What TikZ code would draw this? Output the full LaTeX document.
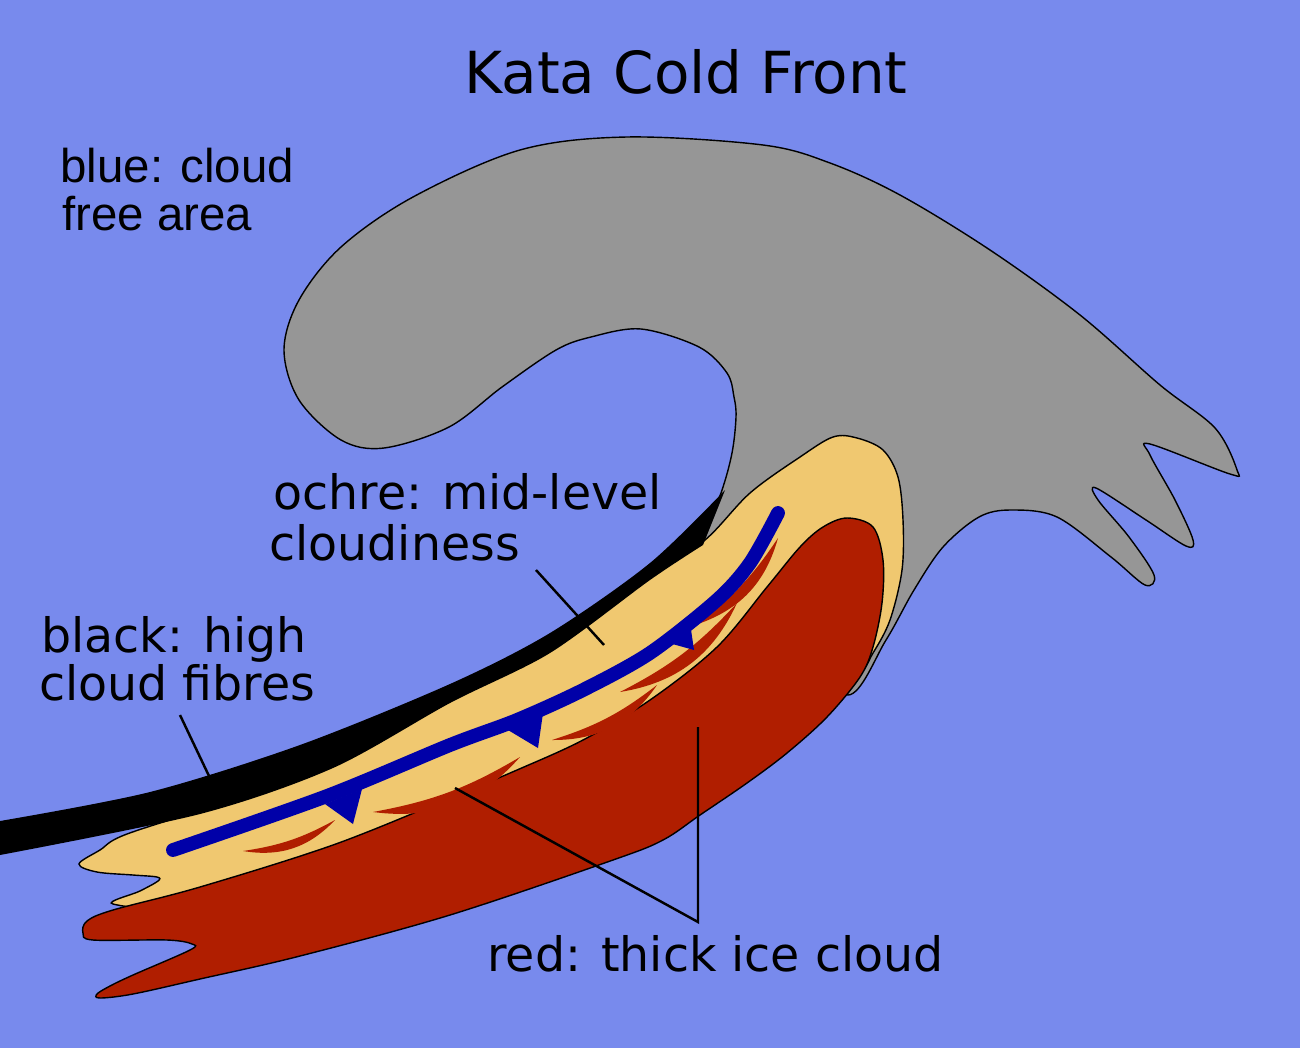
\documentclass[tikz,border=0pt]{standalone}
\usepackage{fontspec}
\setmainfont{DejaVu Sans}
\newfontfamily\arialfont{Liberation Sans}
\definecolor{sky}{RGB}{120,138,237}
\definecolor{cloudgray}{RGB}{150,150,150}
\definecolor{ochre}{RGB}{240,200,112}
\definecolor{icered}{RGB}{176,30,0}
\definecolor{frontblue}{RGB}{0,0,168}
\begin{document}
\begin{tikzpicture}[x=.02cm, y=-.02cm,
    outline/.style={draw=black, line width=.8pt},
    lead/.style={draw=black, line width=1.4pt},
    lbl/.style={font=\fontsize{27}{30}\selectfont, inner sep=0pt, anchor=base west}]

\useasboundingbox (0,0) rectangle (1300,1048);
\fill[sky] (0,0) rectangle (1300,1048);

% grey cloud head
\filldraw[cloudgray, outline] plot[smooth cycle, tension=.55] coordinates {(700,545) (721,493) (732,453) (736,417) (734,397) (727,373) (699,347) (641,329) (591,337) (556,350) (502,387) (449,427) (384,448) (341,440) (299,400) (284,350) (299,300) (341,247) (413,197) (520,150) (627,137) (763,145) (830,163) (900,195) (990,250) (1080,315) (1160,385) (1215,428) (1237,470) (1230,474) (1150,444) (1150,455) (1175,500) (1193,540) (1186,546) (1146,520) (1096,488) (1098,500) (1129,537) (1154,575) (1145,585) (1111,557) (1057,517) (1011,510) (979,517) (943,547) (914,590) (886,640) (848,695) (800,640) (760,560)};

% ochre band
\filldraw[ochre, outline] plot[smooth cycle, tension=.55] coordinates {(127,834) (233,800) (333,765) (450,700) (550,650) (650,577) (705,540) (750,493) (800,457) (833,437) (857,438) (883,450) (898,477) (903,520) (902,570) (890,620) (873,653) (856,676) (800,700) (650,790) (450,860) (200,905) (113,904) (140,891) (158,881) (157,877) (133,875) (97,872) (79,864) (100,850)};

% red band
\filldraw[icered, outline] plot[smooth cycle, tension=.55] coordinates {(113,910) (200,887) (333,845) (450,798) (517,770) (583,740) (650,700) (717,647) (767,587) (800,547) (823,527) (847,518) (873,527) (883,560) (882,603) (873,647) (860,677) (827,717) (787,753) (747,783) (700,815) (663,840) (613,860) (450,915) (300,956) (200,979) (133,994) (100,998) (97,994) (110,986) (133,975) (190,950) (192,944) (167,940) (93,940) (83,933) (87,921)};

% black fibres
\fill[black] plot[smooth] coordinates {(0,821) (150,792) (300,745) (450,684) (550,633) (650,563) (725,490)} -- plot[smooth] coordinates {(703,545) (650,580) (550,653) (450,703) (333,768) (200,814) (0,855)} -- cycle;

% red slivers
\foreach \xa/\ya/\xb/\yb in {243/851/335/820, 373/812/520/757, 552/740/657/685, 620/692/737/603, 695/625/778/538}
    \fill[icered] (\xa,\ya) to[bend right=28] (\xb,\yb) to[bend left=10] (\xa,\ya);

% cold front
\draw[frontblue, line width=7.9pt, line cap=round] plot[smooth] coordinates {(173,850) (327,796) (450,745) (517,720) (583,690) (650,653) (717,600) (750,563) (778,513)};
\fill[frontblue] (325,804)--(362,789)--(353,824)--cycle;
\fill[frontblue] (508,730)--(543,713)--(538,748)--cycle;
\fill[frontblue] (658,640)--(689,616)--(694,650)--cycle;

% labels
\node[lbl, anchor=base, font=\fontsize{33}{36}\selectfont] (title) at (686,93) {Kata Cold Front};
\node[lbl, font=\arialfont\fontsize{27}{30}\selectfont] (blueA) at (60,182) {blue: cloud};
\node[lbl, font=\arialfont\fontsize{27}{30}\selectfont] (blueB) at (62,230) {free area};
\node[lbl] (ochreA) at (273,509) {ochre: mid-level};
\node[lbl] (ochreB) at (269,560) {cloudiness};
\node[lbl] (blackA) at (41,652) {black: high};
\node[lbl] (blackB) at (39,700) {cloud fibres};
\node[lbl] (red) at (487,971) {red: thick ice cloud};

\coordinate (ochreS) at (536,570);
\coordinate (ochreE) at (604,645);
\coordinate (blackS) at (180,715);
\coordinate (blackE) at (209,776);
\coordinate (redFork) at (698,922);
\coordinate (redA) at (455,788);
\coordinate (redB) at (698,727);
\draw[lead] (ochreS) -- (ochreE);
\draw[lead] (blackS) -- (blackE);
\draw[lead] (redA) -- (redFork) -- (redB);
\end{tikzpicture}
\end{document}
